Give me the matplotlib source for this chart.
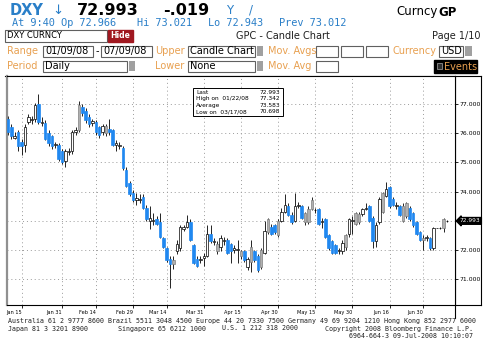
import numpy as np
import pandas as pd
import matplotlib.pyplot as plt
from matplotlib.patches import Rectangle, Polygon

# Daily DXY candles, 01/09/08 - 07/09/08
dates = pd.bdate_range('2008-01-09', '2008-07-09')
opens = [76.50, 76.20, 75.85, 76.05, 75.70, 75.60, 76.40, 76.45, 76.50, 77.00,
         76.35, 76.35, 76.00, 75.90, 75.58, 75.60, 75.40, 75.05, 75.35, 75.40,
         76.05, 76.10, 76.90, 76.75, 76.55, 76.35, 76.40, 76.20, 76.05, 76.00,
         76.15, 76.10, 75.60, 75.55, 75.50, 74.75, 74.30, 73.95, 73.70, 73.70,
         73.80, 73.45, 73.00, 73.00, 73.05, 72.95, 72.40, 72.05, 71.70, 71.50,
         71.95, 72.05, 72.72, 72.80, 72.95, 72.15, 71.70, 71.65, 71.72, 71.80,
         72.55, 72.28, 72.20, 72.10, 72.30, 72.35, 72.20, 72.00, 71.98, 71.80,
         71.95, 71.40, 71.60, 71.95, 71.80, 71.40, 71.90, 72.60, 72.80, 72.85,
         72.50, 73.00, 73.30, 73.50, 73.20, 73.00, 73.50, 73.50, 72.95, 72.95,
         73.40, 73.35, 73.40, 72.95, 73.05, 72.50, 72.30, 72.15, 71.95, 71.95,
         72.10, 72.55, 73.00, 72.90, 72.95, 73.22, 73.40, 73.50, 73.10, 72.30,
         72.95, 73.30, 73.85, 74.15, 73.75, 73.50, 73.50, 73.00, 73.60, 73.45,
         73.25, 72.95, 72.60, 72.35, 72.40, 72.40, 72.05, 72.75, 72.75, 72.75,
         73.00]
highs = [76.60, 76.30, 76.05, 76.10, 75.80, 76.30, 76.65, 76.60, 77.05, 77.342,
         76.55, 76.45, 76.10, 75.95, 75.70, 75.65, 75.45, 75.45, 75.50, 76.10,
         76.20, 77.10, 77.00, 76.85, 76.65, 76.50, 76.45, 76.25, 76.30, 76.30,
         76.50, 76.15, 75.75, 75.70, 75.55, 74.85, 74.35, 74.05, 73.95, 73.90,
         73.90, 73.55, 73.50, 73.25, 73.15, 73.25, 72.45, 72.10, 71.80, 71.80,
         72.35, 72.85, 72.85, 73.20, 73.05, 72.20, 71.80, 71.80, 71.90, 72.85,
         72.85, 72.40, 72.30, 72.50, 72.45, 72.40, 72.25, 72.15, 72.35, 72.00,
         72.00, 71.75, 72.35, 72.00, 71.85, 72.05, 73.00, 73.10, 72.90, 72.90,
         73.05, 73.45, 73.90, 73.60, 73.30, 73.95, 73.65, 73.55, 73.30, 73.50,
         73.80, 73.45, 73.45, 73.10, 73.10, 72.55, 72.35, 72.20, 72.05, 72.35,
         72.55, 73.10, 73.15, 73.30, 73.30, 73.45, 73.60, 73.55, 73.15, 72.95,
         73.80, 74.00, 74.34, 74.20, 73.80, 73.65, 73.55, 73.60, 73.65, 73.50,
         73.30, 73.00, 72.65, 72.50, 72.50, 72.45, 72.80, 72.75, 72.78, 73.10,
         73.021]
lows = [75.95, 75.80, 75.80, 75.40, 75.25, 75.35, 76.30, 76.30, 76.40, 76.30,
        76.25, 75.75, 75.55, 75.45, 75.50, 75.05, 74.95, 74.85, 75.25, 75.30,
        75.95, 76.05, 76.60, 76.35, 76.20, 76.25, 75.95, 75.85, 75.95, 75.90,
        75.95, 75.55, 75.40, 75.45, 74.75, 74.15, 73.85, 73.65, 73.55, 73.60,
        73.40, 73.00, 72.70, 72.85, 72.85, 72.40, 72.05, 71.60, 70.698, 71.35,
        71.85, 71.95, 72.65, 72.75, 72.30, 71.50, 71.40, 71.55, 71.45, 71.75,
        72.25, 72.15, 71.85, 71.95, 72.15, 71.85, 71.55, 71.90, 71.55, 71.70,
        71.60, 71.30, 71.25, 71.60, 71.25, 71.35, 71.85, 72.55, 72.50, 72.55,
        72.45, 72.95, 73.25, 73.15, 72.90, 72.95, 73.45, 73.05, 72.85, 72.90,
        73.35, 73.25, 72.85, 72.75, 72.40, 72.00, 71.85, 71.85, 71.85, 71.85,
        72.00, 72.45, 72.55, 72.85, 72.90, 73.15, 73.35, 72.95, 72.05, 72.10,
        72.90, 73.25, 73.80, 73.45, 73.50, 73.40, 73.15, 72.95, 73.10, 73.00,
        72.80, 72.50, 72.30, 72.00, 72.30, 72.00, 72.00, 72.75, 72.72, 72.60,
        72.943]
closes = [76.05, 75.90, 75.92, 75.55, 75.55, 76.20, 76.55, 76.50, 76.95, 76.40,
          76.40, 75.80, 75.65, 75.55, 75.62, 75.10, 75.00, 75.40, 75.40, 76.05,
          76.10, 76.95, 76.70, 76.45, 76.30, 76.42, 76.05, 75.95, 76.25, 76.25,
          76.05, 75.60, 75.65, 75.58, 74.80, 74.20, 73.90, 73.70, 73.78, 73.75,
          73.45, 73.05, 73.08, 73.03, 72.90, 72.45, 72.10, 71.65, 71.50, 71.65,
          72.20, 72.80, 72.77, 72.95, 72.35, 71.55, 71.45, 71.70, 71.78, 72.55,
          72.30, 72.32, 71.95, 72.40, 72.35, 71.90, 71.95, 72.08, 72.02, 71.95,
          71.65, 71.70, 72.10, 71.65, 71.30, 72.00, 72.65, 73.05, 72.55, 72.60,
          73.00, 73.30, 73.55, 73.20, 72.95, 73.50, 73.55, 73.10, 73.25, 73.40,
          73.70, 73.38, 72.90, 72.98, 72.45, 72.05, 71.90, 71.90, 72.00, 72.25,
          72.50, 73.05, 73.02, 73.25, 73.22, 73.40, 73.45, 73.00, 72.30, 72.85,
          73.75, 73.95, 74.10, 73.50, 73.55, 73.55, 73.20, 73.50, 73.15, 73.05,
          72.85, 72.55, 72.35, 72.40, 72.45, 72.05, 72.75, 72.75, 72.75, 73.05,
          72.993]
# body style per day: b = blue, g = grey, w = hollow
kinds = ("bbwbbwwwwb" "wbbbwbbwww" "wgbbbwbbwg" "bbwwbbbbww" "bbwwbbbbbg"
         "wwwwbbbwww" "bwgwwbbwwg" "bwgbbgwgbb" "gwwbbwwbgg" "gwbwbbbbww"
         "gwwggwwbbw" "wgwbbwbggb" "bbbgwbwwwg" "w")

tick_dates = ['2008-01-15', '2008-01-31', '2008-02-14', '2008-02-29', '2008-03-14', '2008-03-31',
              '2008-04-15', '2008-04-30', '2008-05-15', '2008-05-30', '2008-06-16', '2008-06-30']
tick_labels = ['Jan 15', 'Jan 31', 'Feb 14', 'Feb 29', 'Mar 14', 'Mar 31',
               'Apr 15', 'Apr 30', 'May 15', 'May 30', 'Jun 16', 'Jun 30']
y_ticks = [71, 72, 73, 74, 75, 76, 77]
last_price = 72.993

BLUE = '#2088f0'
ORANGE = '#e8a050'
TXTBLUE = '#2a7fc8'

fig = plt.figure(figsize=(4.86, 3.48), dpi=100)
fig.patch.set_facecolor('white')

# full-figure layer for the terminal header / footer, pixel coordinates
ax0 = fig.add_axes([0, 0, 1, 1], zorder=0)
ax0.set_xlim(0, 486)
ax0.set_ylim(348, 0)
ax0.axis('off')

ax0.text(10, 10.5, 'DXY', color=TXTBLUE, fontsize=10.5, fontweight='bold', va='center')
ax0.text(52, 10.5, '\u2193', color=TXTBLUE, fontsize=9.5, va='center')
ax0.text(77, 10.5, '72.993', color='black', fontsize=11.5, fontweight='bold', va='center')
ax0.text(163, 10.5, '-.019', color='black', fontsize=11.5, fontweight='bold', va='center')
ax0.text(226, 10, 'Y', color=TXTBLUE, fontsize=8.5, va='center')
ax0.text(249, 10, '/', color=TXTBLUE, fontsize=8.5, va='center')
ax0.text(457, 12, 'GP', color='black', fontsize=8.5, fontweight='bold', ha='right', va='center')
ax0.text(438, 12, 'Curncy', color='black', fontsize=8.5, ha='right', va='center')

for xx, s in [(12, 'At 9:40 Op 72.966'), (137, 'Hi 73.021'), (208, 'Lo 72.943'), (279, 'Prev 73.012')]:
    ax0.text(xx, 23.5, s, color=TXTBLUE, fontsize=7.4, family='DejaVu Sans Mono', va='center')


def box(x0, x1, y0, y1, txt=None, fc='white', ec='#606060', tc='black', fs=6.5):
    ax0.add_patch(Rectangle((x0, y0), x1 - x0, y1 - y0, facecolor=fc, edgecolor=ec, lw=0.8))
    if txt:
        ax0.text(x0 + 2, (y0 + y1) / 2, txt, color=tc, fontsize=fs, va='center')


box(5, 107, 30, 42, 'DXY CURNCY', fs=6)
ax0.add_patch(Rectangle((108, 30), 25, 12, facecolor='#a01820', edgecolor='#a01820'))
ax0.text(120.5, 36, 'Hide', color='white', fontsize=5.5, fontweight='bold', ha='center', va='center')
ax0.text(283, 36, 'GPC - Candle Chart', color='#202020', fontsize=7, ha='center', va='center')
ax0.text(480, 36, 'Page 1/10', color='#202020', fontsize=7, ha='right', va='center')

# row 1 of the form
ax0.text(7, 51, 'Range', color=ORANGE, fontsize=7, va='center')
box(43, 93, 45.5, 57, '01/09/08', fs=7)
ax0.text(96, 51, '-', color='black', fontsize=7, va='center')
box(101, 152, 45.5, 57, '07/09/08', fs=7)
ax0.text(155, 51, 'Upper', color=ORANGE, fontsize=7, va='center')
box(188, 255, 45.5, 57, 'Candle Chart', fs=7)
ax0.add_patch(Rectangle((256.5, 46), 6.5, 10, facecolor='#a0a0a0', edgecolor='none'))
ax0.text(268, 51, 'Mov. Avgs', color=ORANGE, fontsize=7, va='center')
for a, b in [(316, 338), (341, 363), (366, 388)]:
    box(a, b, 45.5, 57)
ax0.text(392, 51, 'Currency', color=ORANGE, fontsize=7, va='center')
box(439, 463, 45.5, 57, 'USD', fs=7)
ax0.add_patch(Rectangle((465, 46), 6.5, 10, facecolor='#a0a0a0', edgecolor='none'))

# row 2 of the form
ax0.text(7, 66, 'Period', color=ORANGE, fontsize=7, va='center')
box(43, 127, 60.5, 72, 'Daily', fs=7)
ax0.add_patch(Rectangle((128.5, 61), 6.5, 10, facecolor='#a0a0a0', edgecolor='none'))
ax0.text(155, 66, 'Lower', color=ORANGE, fontsize=7, va='center')
box(188, 255, 60.5, 72, 'None', fs=7)
ax0.add_patch(Rectangle((256.5, 61), 6.5, 10, facecolor='#a0a0a0', edgecolor='none'))
ax0.text(268, 66, 'Mov. Avg', color=ORANGE, fontsize=7, va='center')
box(316, 338, 60.5, 72)
ax0.add_patch(Rectangle((434, 60), 43, 13, facecolor='black', edgecolor='black'))
ax0.add_patch(Rectangle((436.5, 63), 5, 6, facecolor='#303030', edgecolor='#909090', lw=0.6))
ax0.text(444, 66.5, 'Events', color=ORANGE, fontsize=7, va='center')

# chart frame pieces outside the plot
ax0.plot([5, 481], [75.5, 75.5], color='black', lw=0.8)
ax0.plot([481, 481], [75.5, 305], color='black', lw=0.8)
ax0.plot([455, 481], [305, 305], color='black', lw=0.8)
ax0.plot([455, 455], [75.5, 318], color='black', lw=0.8)

# footer
foot = dict(fontsize=4.75, family='DejaVu Sans Mono', color='#202020', va='center')
ax0.text(8, 321.5, 'Australia 61 2 9777 8600 Brazil 5511 3048 4500 Europe 44 20 7330 7500 '
         'Germany 49 69 9204 1210 Hong Kong 852 2977 6000', **foot)
ax0.text(8, 328.5, 'Japan 81 3 3201 8900', **foot)
ax0.text(118, 328.5, 'Singapore 65 6212 1000', **foot)
ax0.text(222, 328.5, 'U.S. 1 212 318 2000', **foot)
ax0.text(473, 328.5, 'Copyright 2008 Bloomberg Finance L.P.', ha='right', **foot)
ax0.text(473, 335.5, '6964-664-3 09-Jul-2008 10:10:07', ha='right', **foot)

# candle chart
ax = fig.add_axes([7 / 486, 1 - 305 / 348, 448 / 486, 229 / 348], zorder=1)
x = np.arange(len(dates))
o = np.array(opens)
h = np.array(highs)
l = np.array(lows)
c = np.array(closes)
k = np.array(list(kinds))

ax.vlines(x, l, h, color='black', lw=0.6, zorder=2)
body_lo = np.minimum(o, c)
body_h = np.abs(c - o)
fcs = {'b': BLUE, 'g': '#b0b0b0', 'w': 'white'}
ecs = {'b': BLUE, 'g': '#808080', 'w': 'black'}
for kind in 'bgw':
    m = k == kind
    ax.bar(x[m], body_h[m], bottom=body_lo[m], width=0.75, color=fcs[kind],
           edgecolor=ecs[kind], linewidth=0.5, zorder=3)

tick_pos = [dates.get_loc(pd.Timestamp(d)) for d in tick_dates]
ax.set_xticks(tick_pos)
ax.set_xticklabels(tick_labels, fontsize=3.6, ha='right')
ax.set_yticks(y_ticks)
# the 73 label sits under the last-price tag
ax.set_yticklabels(['' if v == 73 else '%.3f' % v for v in y_ticks], fontsize=4.4)
ax.yaxis.tick_right()
ax.tick_params(axis='y', length=2.5, pad=1, width=0.6, colors='black')
ax.tick_params(axis='x', length=2, pad=1.5, width=0.6, direction='out')
ax.grid(True, color='#9a9a9a', linestyle=(0, (1, 3)), lw=0.7)
ax.set_axisbelow(True)
ax.set_xlim(-0.3, 132.4)
ax.set_ylim(70.11, 77.96)
for side in ['top', 'right', 'bottom']:
    ax.spines[side].set_color('black')
    ax.spines[side].set_linewidth(0.8)
ax.spines['left'].set_color('#909090')
ax.spines['left'].set_linewidth(1.6)

# last price tag on the right scale
ax.annotate('%.3f' % last_price, xy=(1.0, last_price), xycoords=('axes fraction', 'data'),
            xytext=(3.5, 0), textcoords='offset points', fontsize=4.2, color='white',
            va='center', ha='left', annotation_clip=False,
            bbox=dict(boxstyle='larrow,pad=0.15', fc='black', ec='black'))

# summary box
info_lbl = ['Last', 'High on  01/22/08', 'Average', 'Low on  03/17/08']
info_val = ['72.993', '77.342', '73.583', '70.698']
ax_info = fig.add_axes([0, 0, 1, 1], zorder=2)
ax_info.set_xlim(0, 486)
ax_info.set_ylim(348, 0)
ax_info.axis('off')
ax_info.add_patch(Rectangle((193, 88), 90, 28, facecolor='white', edgecolor='black', lw=0.7))
for j in range(4):
    yy = 92 + j * 6.6
    ax_info.text(196, yy, info_lbl[j], fontsize=4.2, va='center', color='black')
    ax_info.text(280, yy, info_val[j], fontsize=4.2, va='center', ha='right', color='black')

fig.savefig('out.png', dpi=100)
